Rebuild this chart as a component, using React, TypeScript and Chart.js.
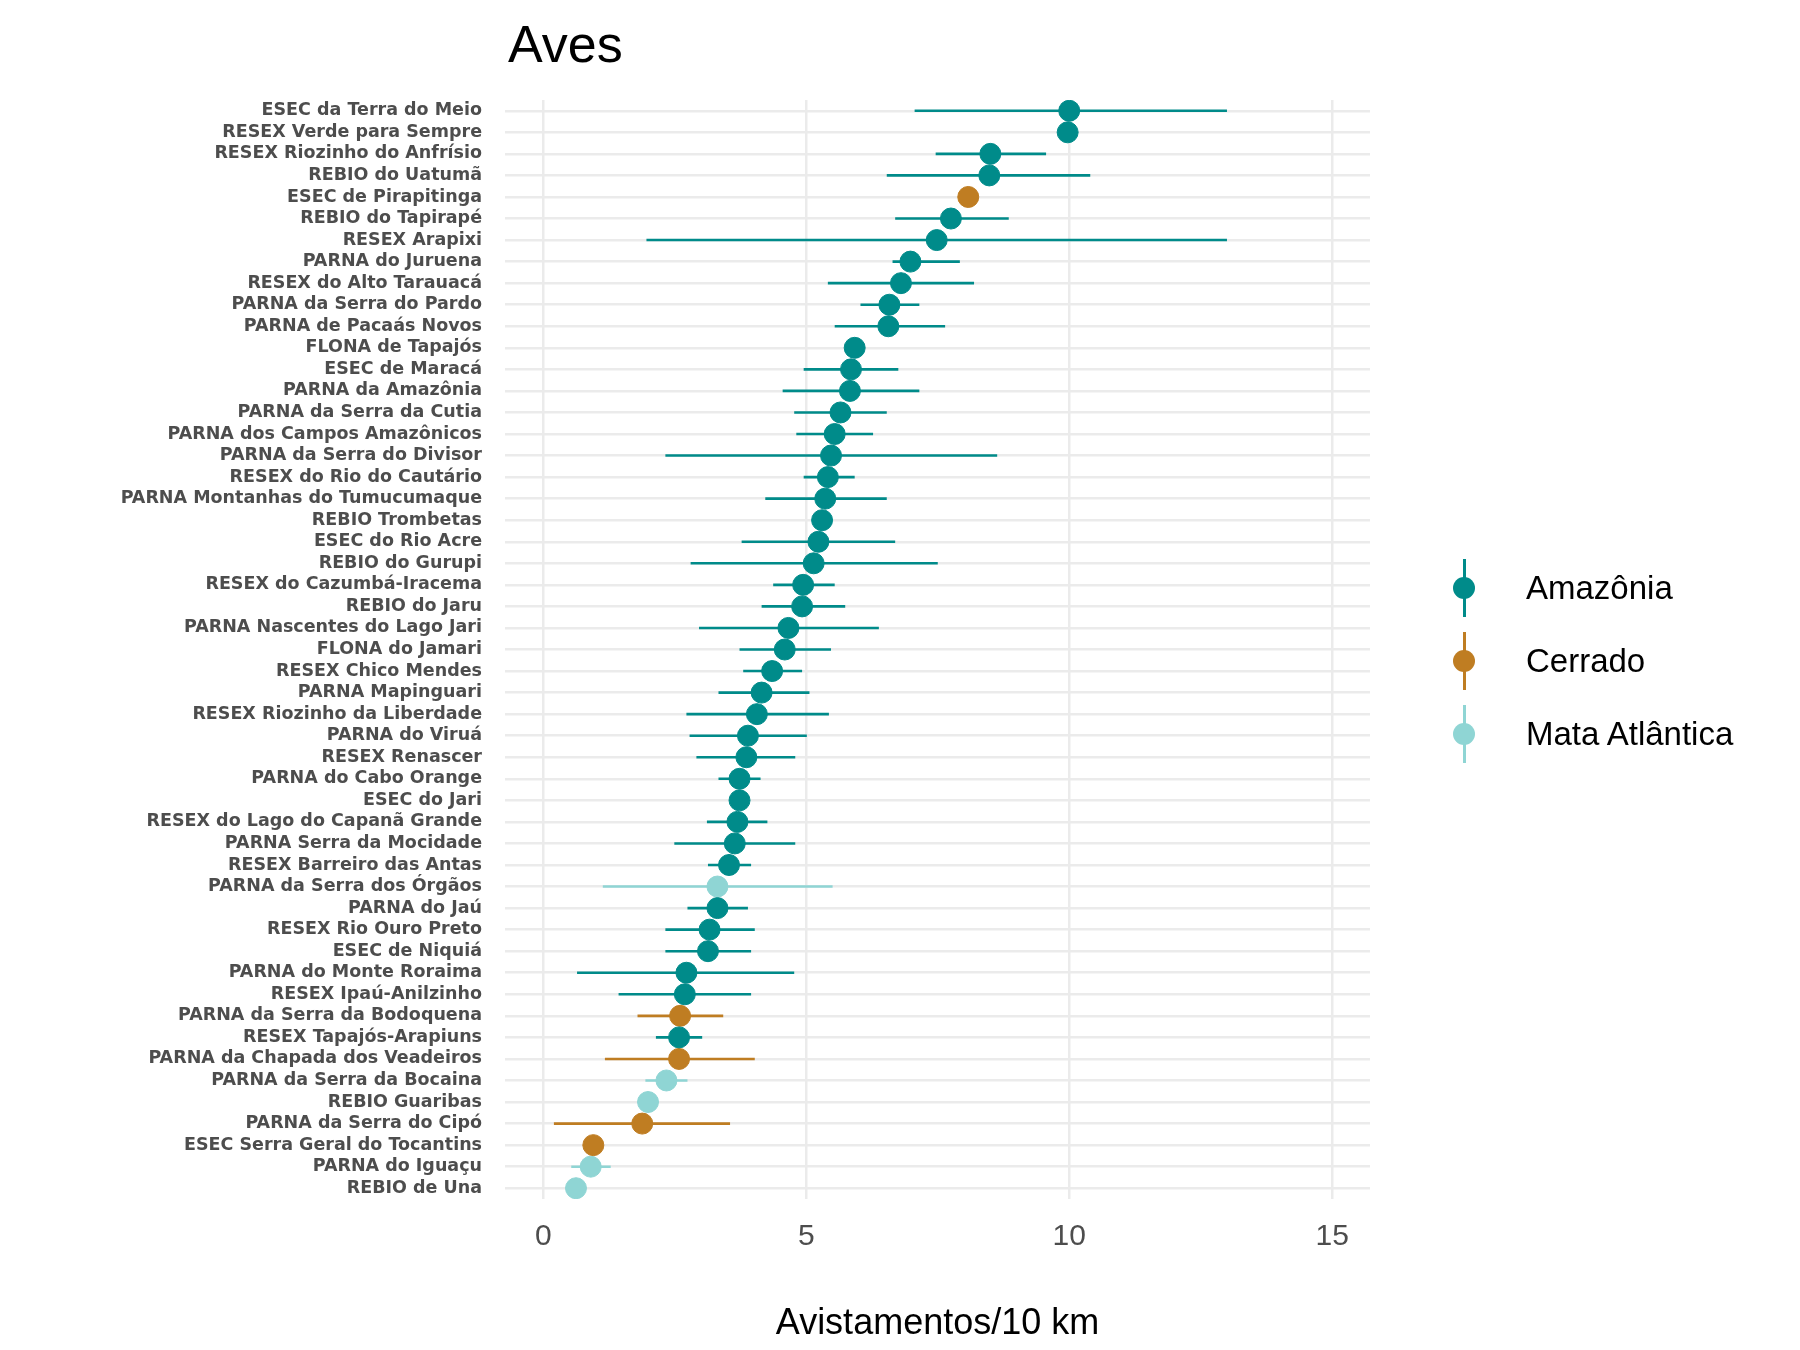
import { useEffect, useRef } from 'react';
import { Chart, registerables } from 'chart.js';

Chart.register(...registerables);

const names = [
  'ESEC da Terra do Meio', 'RESEX Verde para Sempre', 'RESEX Riozinho do Anfrísio', 'REBIO do Uatumã',
  'ESEC de Pirapitinga', 'REBIO do Tapirapé', 'RESEX Arapixi', 'PARNA do Juruena', 'RESEX do Alto Tarauacá',
  'PARNA da Serra do Pardo', 'PARNA de Pacaás Novos', 'FLONA de Tapajós', 'ESEC de Maracá', 'PARNA da Amazônia',
  'PARNA da Serra da Cutia', 'PARNA dos Campos Amazônicos', 'PARNA da Serra do Divisor', 'RESEX do Rio do Cautário',
  'PARNA Montanhas do Tumucumaque', 'REBIO Trombetas', 'ESEC do Rio Acre', 'REBIO do Gurupi',
  'RESEX do Cazumbá-Iracema', 'REBIO do Jaru', 'PARNA Nascentes do Lago Jari', 'FLONA do Jamari',
  'RESEX Chico Mendes', 'PARNA Mapinguari', 'RESEX Riozinho da Liberdade', 'PARNA do Viruá', 'RESEX Renascer',
  'PARNA do Cabo Orange', 'ESEC do Jari', 'RESEX do Lago do Capanã Grande', 'PARNA Serra da Mocidade',
  'RESEX Barreiro das Antas', 'PARNA da Serra dos Órgãos', 'PARNA do Jaú', 'RESEX Rio Ouro Preto', 'ESEC de Niquiá',
  'PARNA do Monte Roraima', 'RESEX Ipaú-Anilzinho', 'PARNA da Serra da Bodoquena', 'RESEX Tapajós-Arapiuns',
  'PARNA da Chapada dos Veadeiros', 'PARNA da Serra da Bocaina', 'REBIO Guaribas', 'PARNA da Serra do Cipó',
  'ESEC Serra Geral do Tocantins', 'PARNA do Iguaçu', 'REBIO de Una',
];

const means = [
  10.0, 9.97, 8.5, 8.48, 8.08, 7.75, 7.48, 6.98, 6.8, 6.58, 6.56, 5.92, 5.85, 5.83, 5.65, 5.54, 5.47, 5.41, 5.36,
  5.3, 5.23, 5.14, 4.94, 4.92, 4.66, 4.59, 4.35, 4.15, 4.06, 3.89, 3.86, 3.73, 3.73, 3.69, 3.64, 3.53, 3.31, 3.31,
  3.16, 3.13, 2.72, 2.69, 2.6, 2.58, 2.58, 2.34, 1.99, 1.88, 0.95, 0.9, 0.62,
];

const lower: (number | null)[] = [
  7.06, null, 7.46, 6.53, null, 6.69, 1.96, 6.64, 5.41, 6.03, 5.54, null, 4.95, 4.55, 4.77, 4.81, 2.32, 4.95, 4.22,
  null, 3.77, 2.8, 4.37, 4.15, 2.96, 3.73, 3.8, 3.33, 2.72, 2.78, 2.91, 3.33, null, 3.11, 2.49, 3.13, 1.13, 2.74,
  2.32, 2.32, 0.64, 1.43, 1.79, 2.14, 1.17, 1.94, null, 0.2, null, 0.53, null,
];

const upper: (number | null)[] = [
  13.0, null, 9.56, 10.4, null, 8.85, 13.0, 7.92, 8.19, 7.15, 7.64, null, 6.75, 7.15, 6.53, 6.27, 8.63, 5.92, 6.53,
  null, 6.69, 7.5, 5.54, 5.74, 6.38, 5.47, 4.92, 5.06, 5.43, 5.01, 4.79, 4.13, null, 4.26, 4.79, 3.95, 5.5, 3.89,
  4.02, 3.95, 4.77, 3.95, 3.42, 3.02, 4.02, 2.74, null, 3.55, null, 1.28, null,
];

// A = Amazônia, C = Cerrado, M = Mata Atlântica
const biome = [
  'A', 'A', 'A', 'A', 'C', 'A', 'A', 'A', 'A', 'A', 'A', 'A', 'A', 'A', 'A', 'A', 'A', 'A', 'A', 'A', 'A', 'A', 'A',
  'A', 'A', 'A', 'A', 'A', 'A', 'A', 'A', 'A', 'A', 'A', 'A', 'A', 'M', 'A', 'A', 'A', 'A', 'A', 'C', 'A', 'C', 'M',
  'M', 'C', 'C', 'M', 'M',
];

const biomes = [
  { key: 'A', label: 'Amazônia', color: '#008b8a' },
  { key: 'C', label: 'Cerrado', color: '#bf7d22' },
  { key: 'M', label: 'Mata Atlântica', color: '#8fd5d4' },
];

const xTicks = [0, 5, 10, 15];

const errorBars = {
  id: 'errorBars',
  beforeDatasetsDraw(chart: any) {
    const { ctx, scales } = chart;
    ctx.save();
    ctx.lineWidth = 2.6;
    names.forEach((_, i) => {
      const lo = lower[i], hi = upper[i];
      if (lo == null || hi == null) return;
      const b = biomes.find((d) => d.key === biome[i])!;
      const y = scales.y.getPixelForValue(i + 1);
      ctx.strokeStyle = b.color;
      ctx.beginPath();
      ctx.moveTo(scales.x.getPixelForValue(lo), y);
      ctx.lineTo(scales.x.getPixelForValue(hi), y);
      ctx.stroke();
    });
    ctx.restore();
  },
};

export default function App() {
  const canvasRef = useRef<HTMLCanvasElement | null>(null);

  useEffect(() => {
    if (!canvasRef.current) return;
    const chart = new Chart(canvasRef.current, {
      type: 'scatter',
      data: {
        datasets: biomes.map((b) => ({
          label: b.label,
          data: means.map((m, i) => ({ x: m, y: i + 1 })).filter((_, i) => biome[i] === b.key),
          backgroundColor: b.color,
          borderColor: b.color,
          pointRadius: 10.5,
          pointHoverRadius: 10.5,
        })),
      },
      options: {
        animation: false,
        responsive: true,
        maintainAspectRatio: false,
        layout: { padding: { top: 100, right: 430, bottom: 0, left: 0 } },
        plugins: { legend: { display: false }, tooltip: { enabled: false } },
        scales: {
          x: {
            type: 'linear',
            min: -0.73,
            max: 15.72,
            afterBuildTicks: (axis: any) => {
              axis.ticks = xTicks.map((v) => ({ value: v }));
            },
            afterFit: (axis: any) => {
              axis.height = 151;
            },
            grid: { color: '#ebebeb', lineWidth: 2.5, drawTicks: false },
            border: { display: false },
            ticks: {
              color: '#4d4d4d',
              padding: 20,
              font: { family: 'Arial, Liberation Sans', size: 30 },
            },
            title: {
              display: true,
              text: 'Avistamentos/10 km',
              color: '#000',
              padding: { top: 38 },
              font: { family: 'Arial, Liberation Sans', size: 36 },
            },
          },
          y: {
            type: 'linear',
            reverse: true,
            min: 0.5,
            max: 51.5,
            afterBuildTicks: (axis: any) => {
              axis.ticks = names.map((_, i) => ({ value: i + 1 }));
            },
            afterFit: (axis: any) => {
              axis.width = 505;
            },
            grid: { color: '#ebebeb', lineWidth: 2.5, drawTicks: false },
            border: { display: false },
            ticks: {
              autoSkip: false,
              color: '#4d4d4d',
              padding: 23,
              font: { family: 'DejaVu Sans', size: 17.5, weight: 'bold' },
              callback: (v: any) => names[Number(v) - 1] ?? '',
            },
          },
        },
      },
      plugins: [errorBars],
    });
    return () => chart.destroy();
  }, []);

  return (
    <div style={{ position: 'absolute', left: 0, top: 0, width: 1800, height: 1350, background: '#fff', fontFamily: 'Arial, Liberation Sans' }}>
      <canvas ref={canvasRef} />
      <div style={{ position: 'absolute', left: 508, top: 14, fontSize: 52, color: '#000' }}>Aves</div>
      {biomes.map((b, i) => (
        <div key={b.key} style={{ position: 'absolute', left: 1434, top: 559 + i * 73, height: 58, display: 'flex', alignItems: 'center' }}>
          <div style={{ position: 'relative', width: 60, height: 58 }}>
            <div style={{ position: 'absolute', left: 29, top: 0, width: 2.6, height: 58, background: b.color }} />
            <div style={{ position: 'absolute', left: 19, top: 18, width: 22, height: 22, borderRadius: 11, background: b.color }} />
          </div>
          <div style={{ marginLeft: 32, fontSize: 33, color: '#000' }}>{b.label}</div>
        </div>
      ))}
    </div>
  );
}
